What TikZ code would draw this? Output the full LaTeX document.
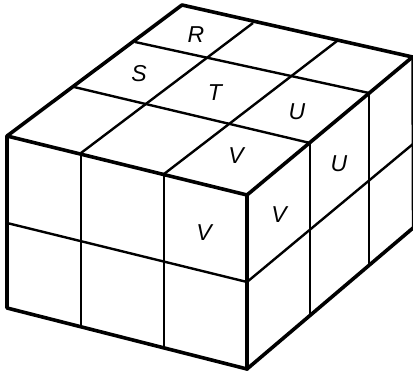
\documentclass[tikz,border=0pt]{standalone}
\usepackage{fontspec}
\setmainfont{Liberation Sans}
\tikzset{
  outer/.style = {line width=3.6pt, black, line join=round, line cap=round},
  inner/.style = {line width=2.4pt, black},
  cell/.style  = {inner sep=0pt, font=\fontsize{23}{23}\selectfont\itshape},
}
\begin{document}
\begin{tikzpicture}[x=1pt,y=-1pt]
      \useasboundingbox (0,0) rectangle (413,371);

      % top face
      \coordinate (back)  at (182,5);
      \coordinate (right) at (412.5,57);
      \coordinate (front) at (247,195);
      \coordinate (left)  at (7,136);
      \coordinate (la) at (135,42);
      \coordinate (lb) at (74,87);
      \coordinate (ba) at (253,23);
      \coordinate (bb) at (337,41);
      \coordinate (fa) at (81,153);
      \coordinate (fb) at (164,174);
      \coordinate (ra) at (369,93);
      \coordinate (rb) at (310,143);

      % front and side faces
      \coordinate (botleft)  at (7,308);
      \coordinate (botfront) at (247,369);
      \coordinate (botright) at (413,228);
      \coordinate (bfa) at (81,325);
      \coordinate (bfb) at (164,346);
      \coordinate (bra) at (369,265);
      \coordinate (brb) at (310,315);
      \coordinate (midleft)  at (7,223);
      \coordinate (midfront) at (247,282);
      \coordinate (midright) at (413,144);

      \foreach \a/\b in {la/ra, lb/rb, fa/ba, fb/bb, fa/bfa, fb/bfb, rb/brb, ra/bra,
                         midleft/midfront, midfront/midright, right/botright} {
        \draw[inner] (\a) -- (\b);
      }
      \draw[outer] (back) -- (right) -- (front) -- (left) -- cycle;
      \draw[outer] (left) -- (botleft) -- (botfront) -- (botright);
      \draw[outer] (front) -- (botfront);

      \node[cell] (r)  at (196,35)  {R};
      \node[cell] (s)  at (139,74)  {S};
      \node[cell] (t)  at (215,93)  {T};
      \node[cell] (u1) at (297,112) {U};
      \node[cell] (u2) at (339,164) {U};
      \node[cell] (v1) at (236,156) {V};
      \node[cell] (v2) at (279,215) {V};
      \node[cell] (v3) at (204,233) {V};
\end{tikzpicture}
\end{document}
